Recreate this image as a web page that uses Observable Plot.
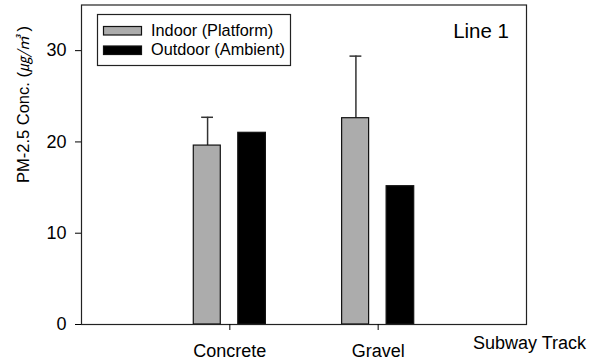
<!DOCTYPE html>
<html>
<head>
<meta charset="utf-8">
<script src="https://cdn.jsdelivr.net/npm/d3@7"></script>
<script src="https://cdn.jsdelivr.net/npm/@observablehq/plot@0.6"></script>
<style>
  html, body { margin: 0; padding: 0; background: #fff; }
  #chart svg { display: block; font-family: Arial, "Liberation Sans", sans-serif; }
</style>
</head>
<body>
<div id="chart"></div>
<script>
const categories = ["Concrete", "Gravel"];
const indoor = [19.6, 22.6];
const outdoor = [21.0, 15.15];
const indoorErr = [3.1, 6.8];
const yTicks = [0, 10, 20, 30];
const seriesNames = ["Indoor (Platform)", "Outdoor (Ambient)"];
const seriesColors = ["#acacac", "#000000"];
const xTitle = "Subway Track";
const yTitle = "PM-2.5 Conc. (";
const yUnit = "㎍/㎥";
const panelLabel = "Line 1";

const rows = categories.map((c, i) => ({
  c, pos: i + 1, indoor: indoor[i], outdoor: outdoor[i], err: indoorErr[i]
}));

const W = 596, H = 361;
const plot = Plot.plot({
  width: W, height: H,
  marginLeft: 81, marginRight: 70, marginTop: 4.5, marginBottom: 37,
  style: { fontFamily: "Arial, 'Liberation Sans', sans-serif", fontSize: "18px", background: "white", color: "black" },
  x: { domain: [0, 3] },
  y: { domain: [0, 35] },
  marks: [
    Plot.ruleX(rows, { x: d => d.pos - 0.15, y1: d => d.indoor, y2: d => d.indoor + d.err, stroke: "#333", strokeWidth: 1.5 }),
    Plot.ruleY(rows, { y: d => d.indoor + d.err, x1: d => d.pos - 0.15 - 0.04, x2: d => d.pos - 0.15 + 0.04, stroke: "#333", strokeWidth: 1.5 }),
    Plot.rectY(rows, { x1: d => d.pos - 0.243, x2: d => d.pos - 0.061, y1: 0, y2: "indoor", fill: seriesColors[0], stroke: "#111", strokeWidth: 1.2 }),
    Plot.rectY(rows, { x1: d => d.pos + 0.057, x2: d => d.pos + 0.243, y1: 0, y2: "outdoor", fill: seriesColors[1], stroke: "#111", strokeWidth: 1.2 }),
    Plot.frame({ stroke: "#222", strokeWidth: 1.2 }),
    Plot.axisY({ ticks: yTicks, tickSize: 6, tickPadding: 9, label: null, fontSize: 18 }),
    Plot.axisX({ ticks: [1, 2], tickFormat: v => categories[v - 1], tickSize: 6, tickPadding: 14, label: null, fontSize: 18 })
  ]
});
document.getElementById("chart").appendChild(plot);

const svg = d3.select(plot);
const font = "Arial, 'Liberation Sans', sans-serif";

// x title
svg.append("text").attr("x", 586).attr("y", 349).attr("text-anchor", "end")
  .attr("font-family", font).attr("font-size", 18).attr("fill", "black").text(xTitle);

// panel label
svg.append("text").attr("x", 509).attr("y", 38).attr("text-anchor", "end")
  .attr("font-family", font).attr("font-size", 20.5).attr("fill", "black").text(panelLabel);

// y title
const yt = svg.append("text").attr("transform", "translate(28.5,183) rotate(-90)")
  .attr("text-anchor", "start").attr("font-family", font).attr("font-size", 16.5).attr("fill", "black");
yt.append("tspan").text(yTitle);
yt.append("tspan").attr("font-size", 15).attr("font-style", "italic")
  .attr("font-family", "'Noto Sans CJK KR', 'Noto Sans CJK SC', sans-serif").text(yUnit);
yt.append("tspan").text(" )");

// legend
const lg = svg.append("g");
lg.append("rect").attr("x", 97.5).attr("y", 14.5).attr("width", 193).attr("height", 51)
  .attr("fill", "white").attr("stroke", "#222").attr("stroke-width", 1.2);
seriesNames.forEach((name, i) => {
  const y = 26.5 + i * 19.5;
  lg.append("rect").attr("x", 103.5).attr("y", y).attr("width", 38).attr("height", 8.5)
    .attr("fill", seriesColors[i]).attr("stroke", "#111").attr("stroke-width", 1.2);
  lg.append("text").attr("x", 151).attr("y", 35.5 + i * 19.5).attr("text-anchor", "start").attr("font-family", font)
    .attr("font-size", 16.3).attr("fill", "black").text(name);
});
</script>
</body>
</html>
